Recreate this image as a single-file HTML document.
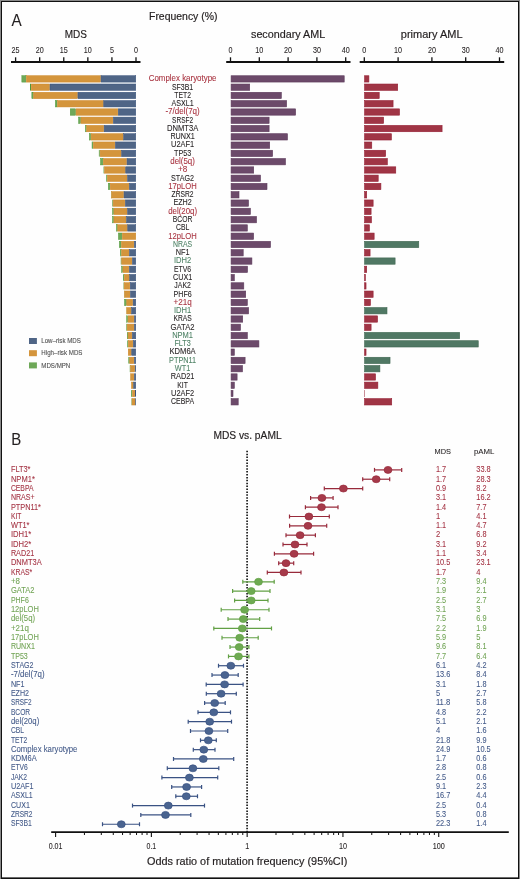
<!DOCTYPE html>
<html><head><meta charset="utf-8"><style>
html,body{margin:0;padding:0;background:#fff;}
body{width:520px;height:879px;overflow:hidden;position:relative;}
svg{position:absolute;left:0;top:0;will-change:transform;}
text{font-family:"Liberation Sans", sans-serif;}
</style></head><body>
<svg width="520" height="879" viewBox="0 0 520 879">
<rect x="0" y="0" width="520" height="879" fill="#fefefe"/>
<g shape-rendering="crispEdges">
<rect x="0" y="0" width="1" height="879" fill="#8a8a8a"/>
<rect x="0" y="0" width="520" height="1" fill="#8a8a8a"/>
<rect x="519" y="0" width="1" height="879" fill="#8a8a8a"/>
<rect x="2" y="877" width="516" height="1" fill="#6a6a6a"/>
<rect x="1" y="1" width="1" height="878" fill="#111"/>
<rect x="1" y="1" width="518" height="1" fill="#111"/>
<rect x="518" y="1" width="1" height="878" fill="#111"/>
<rect x="1" y="878" width="518" height="1" fill="#111"/>
</g>
<text x="11.60" y="26.30" font-size="17.4" fill="#231f20" stroke="#231f20" stroke-width="0.08" text-anchor="start" textLength="10.20" lengthAdjust="spacingAndGlyphs">A</text>
<text x="149.00" y="20.40" font-size="10.6" fill="#231f20" stroke="#231f20" stroke-width="0.18" text-anchor="start" textLength="68.50" lengthAdjust="spacingAndGlyphs">Frequency (%)</text>
<text x="64.80" y="37.80" font-size="11.0" fill="#231f20" stroke="#231f20" stroke-width="0.18" text-anchor="start" textLength="22.20" lengthAdjust="spacingAndGlyphs">MDS</text>
<text x="251.00" y="38.20" font-size="10.9" fill="#231f20" stroke="#231f20" stroke-width="0.18" text-anchor="start" textLength="74.20" lengthAdjust="spacingAndGlyphs">secondary AML</text>
<text x="400.80" y="38.00" font-size="10.9" fill="#231f20" stroke="#231f20" stroke-width="0.18" text-anchor="start" textLength="61.80" lengthAdjust="spacingAndGlyphs">primary AML</text>
<line x1="11.00" y1="62.00" x2="140.50" y2="62.00" stroke="#111" stroke-width="1.8"/>
<line x1="15.60" y1="57.30" x2="15.60" y2="62.00" stroke="#111" stroke-width="1.3"/>
<text x="15.60" y="52.80" font-size="8.4" fill="#231f20" stroke="#231f20" stroke-width="0.08" text-anchor="middle" textLength="8.00" lengthAdjust="spacingAndGlyphs">25</text>
<line x1="39.68" y1="57.30" x2="39.68" y2="62.00" stroke="#111" stroke-width="1.3"/>
<text x="39.68" y="52.80" font-size="8.4" fill="#231f20" stroke="#231f20" stroke-width="0.08" text-anchor="middle" textLength="8.00" lengthAdjust="spacingAndGlyphs">20</text>
<line x1="63.76" y1="57.30" x2="63.76" y2="62.00" stroke="#111" stroke-width="1.3"/>
<text x="63.76" y="52.80" font-size="8.4" fill="#231f20" stroke="#231f20" stroke-width="0.08" text-anchor="middle" textLength="8.00" lengthAdjust="spacingAndGlyphs">15</text>
<line x1="87.84" y1="57.30" x2="87.84" y2="62.00" stroke="#111" stroke-width="1.3"/>
<text x="87.84" y="52.80" font-size="8.4" fill="#231f20" stroke="#231f20" stroke-width="0.08" text-anchor="middle" textLength="8.00" lengthAdjust="spacingAndGlyphs">10</text>
<line x1="111.92" y1="57.30" x2="111.92" y2="62.00" stroke="#111" stroke-width="1.3"/>
<text x="111.92" y="52.80" font-size="8.4" fill="#231f20" stroke="#231f20" stroke-width="0.08" text-anchor="middle" textLength="4.00" lengthAdjust="spacingAndGlyphs">5</text>
<line x1="136.00" y1="57.30" x2="136.00" y2="62.00" stroke="#111" stroke-width="1.3"/>
<text x="136.00" y="52.80" font-size="8.4" fill="#231f20" stroke="#231f20" stroke-width="0.08" text-anchor="middle" textLength="4.00" lengthAdjust="spacingAndGlyphs">0</text>
<line x1="226.20" y1="62.00" x2="350.50" y2="62.00" stroke="#111" stroke-width="1.8"/>
<line x1="230.50" y1="57.30" x2="230.50" y2="62.00" stroke="#111" stroke-width="1.3"/>
<text x="230.50" y="52.80" font-size="8.4" fill="#231f20" stroke="#231f20" stroke-width="0.08" text-anchor="middle" textLength="4.00" lengthAdjust="spacingAndGlyphs">0</text>
<line x1="259.30" y1="57.30" x2="259.30" y2="62.00" stroke="#111" stroke-width="1.3"/>
<text x="259.30" y="52.80" font-size="8.4" fill="#231f20" stroke="#231f20" stroke-width="0.08" text-anchor="middle" textLength="8.00" lengthAdjust="spacingAndGlyphs">10</text>
<line x1="288.10" y1="57.30" x2="288.10" y2="62.00" stroke="#111" stroke-width="1.3"/>
<text x="288.10" y="52.80" font-size="8.4" fill="#231f20" stroke="#231f20" stroke-width="0.08" text-anchor="middle" textLength="8.00" lengthAdjust="spacingAndGlyphs">20</text>
<line x1="316.90" y1="57.30" x2="316.90" y2="62.00" stroke="#111" stroke-width="1.3"/>
<text x="316.90" y="52.80" font-size="8.4" fill="#231f20" stroke="#231f20" stroke-width="0.08" text-anchor="middle" textLength="8.00" lengthAdjust="spacingAndGlyphs">30</text>
<line x1="345.70" y1="57.30" x2="345.70" y2="62.00" stroke="#111" stroke-width="1.3"/>
<text x="345.70" y="52.80" font-size="8.4" fill="#231f20" stroke="#231f20" stroke-width="0.08" text-anchor="middle" textLength="8.00" lengthAdjust="spacingAndGlyphs">40</text>
<line x1="359.70" y1="62.00" x2="504.20" y2="62.00" stroke="#111" stroke-width="1.8"/>
<line x1="364.30" y1="57.30" x2="364.30" y2="62.00" stroke="#111" stroke-width="1.3"/>
<text x="364.30" y="52.80" font-size="8.4" fill="#231f20" stroke="#231f20" stroke-width="0.08" text-anchor="middle" textLength="4.00" lengthAdjust="spacingAndGlyphs">0</text>
<line x1="398.10" y1="57.30" x2="398.10" y2="62.00" stroke="#111" stroke-width="1.3"/>
<text x="398.10" y="52.80" font-size="8.4" fill="#231f20" stroke="#231f20" stroke-width="0.08" text-anchor="middle" textLength="8.00" lengthAdjust="spacingAndGlyphs">10</text>
<line x1="431.90" y1="57.30" x2="431.90" y2="62.00" stroke="#111" stroke-width="1.3"/>
<text x="431.90" y="52.80" font-size="8.4" fill="#231f20" stroke="#231f20" stroke-width="0.08" text-anchor="middle" textLength="8.00" lengthAdjust="spacingAndGlyphs">20</text>
<line x1="465.70" y1="57.30" x2="465.70" y2="62.00" stroke="#111" stroke-width="1.3"/>
<text x="465.70" y="52.80" font-size="8.4" fill="#231f20" stroke="#231f20" stroke-width="0.08" text-anchor="middle" textLength="8.00" lengthAdjust="spacingAndGlyphs">30</text>
<line x1="499.50" y1="57.30" x2="499.50" y2="62.00" stroke="#111" stroke-width="1.3"/>
<text x="499.50" y="52.80" font-size="8.4" fill="#231f20" stroke="#231f20" stroke-width="0.08" text-anchor="middle" textLength="8.00" lengthAdjust="spacingAndGlyphs">40</text>
<rect x="21.85" y="75.70" width="4.00" height="6.40" fill="#6ea858" stroke="#4f9838" stroke-width="0.5"/>
<rect x="26.35" y="75.70" width="74.20" height="6.40" fill="#d4953c" stroke="#cd8626" stroke-width="0.5"/>
<rect x="101.05" y="75.70" width="34.70" height="6.40" fill="#4f6586" stroke="#36507a" stroke-width="0.5"/>
<rect x="231.10" y="75.75" width="113.10" height="6.30" fill="#6c4a6a" stroke="#5d3a5b" stroke-width="0.6"/>
<rect x="364.60" y="75.75" width="4.30" height="6.30" fill="#a03545" stroke="#941f33" stroke-width="0.6"/>
<text x="182.60" y="81.25" font-size="8.4" fill="#a8323f" stroke="#a8323f" stroke-width="0.08" text-anchor="middle" textLength="67.75" lengthAdjust="spacingAndGlyphs">Complex karyotype</text>
<rect x="30.25" y="83.98" width="0.50" height="6.40" fill="#6ea858" stroke="#4f9838" stroke-width="0.5"/>
<rect x="31.25" y="83.98" width="18.25" height="6.40" fill="#d4953c" stroke="#cd8626" stroke-width="0.5"/>
<rect x="50.00" y="83.98" width="85.75" height="6.40" fill="#4f6586" stroke="#36507a" stroke-width="0.5"/>
<rect x="231.10" y="84.03" width="18.60" height="6.30" fill="#6c4a6a" stroke="#5d3a5b" stroke-width="0.6"/>
<rect x="364.60" y="84.03" width="33.10" height="6.30" fill="#a03545" stroke="#941f33" stroke-width="0.6"/>
<text x="182.60" y="89.53" font-size="8.4" fill="#231f20" stroke="#231f20" stroke-width="0.08" text-anchor="middle" textLength="21.28" lengthAdjust="spacingAndGlyphs">SF3B1</text>
<rect x="31.85" y="92.26" width="1.30" height="6.40" fill="#6ea858" stroke="#4f9838" stroke-width="0.5"/>
<rect x="33.65" y="92.26" width="43.80" height="6.40" fill="#d4953c" stroke="#cd8626" stroke-width="0.5"/>
<rect x="77.95" y="92.26" width="57.80" height="6.40" fill="#4f6586" stroke="#36507a" stroke-width="0.5"/>
<rect x="231.10" y="92.31" width="50.20" height="6.30" fill="#6c4a6a" stroke="#5d3a5b" stroke-width="0.6"/>
<rect x="364.60" y="92.31" width="14.61" height="6.30" fill="#a03545" stroke="#941f33" stroke-width="0.6"/>
<text x="182.60" y="97.81" font-size="8.4" fill="#231f20" stroke="#231f20" stroke-width="0.08" text-anchor="middle" textLength="16.69" lengthAdjust="spacingAndGlyphs">TET2</text>
<rect x="55.35" y="100.54" width="1.65" height="6.40" fill="#6ea858" stroke="#4f9838" stroke-width="0.5"/>
<rect x="57.50" y="100.54" width="45.75" height="6.40" fill="#d4953c" stroke="#cd8626" stroke-width="0.5"/>
<rect x="103.75" y="100.54" width="32.00" height="6.40" fill="#4f6586" stroke="#36507a" stroke-width="0.5"/>
<rect x="231.10" y="100.59" width="55.50" height="6.30" fill="#6c4a6a" stroke="#5d3a5b" stroke-width="0.6"/>
<rect x="364.60" y="100.59" width="28.47" height="6.30" fill="#a03545" stroke="#941f33" stroke-width="0.6"/>
<text x="182.60" y="106.09" font-size="8.4" fill="#231f20" stroke="#231f20" stroke-width="0.08" text-anchor="middle" textLength="22.22" lengthAdjust="spacingAndGlyphs">ASXL1</text>
<rect x="70.25" y="108.82" width="5.30" height="6.40" fill="#6ea858" stroke="#4f9838" stroke-width="0.5"/>
<rect x="76.05" y="108.82" width="41.70" height="6.40" fill="#d4953c" stroke="#cd8626" stroke-width="0.5"/>
<rect x="118.25" y="108.82" width="17.50" height="6.40" fill="#4f6586" stroke="#36507a" stroke-width="0.5"/>
<rect x="231.10" y="108.87" width="64.50" height="6.30" fill="#6c4a6a" stroke="#5d3a5b" stroke-width="0.6"/>
<rect x="364.60" y="108.87" width="34.89" height="6.30" fill="#a03545" stroke="#941f33" stroke-width="0.6"/>
<text x="182.60" y="114.37" font-size="8.4" fill="#a8323f" stroke="#a8323f" stroke-width="0.08" text-anchor="middle" textLength="34.30" lengthAdjust="spacingAndGlyphs">-7/del(7q)</text>
<rect x="78.65" y="117.10" width="1.80" height="6.40" fill="#6ea858" stroke="#4f9838" stroke-width="0.5"/>
<rect x="80.95" y="117.10" width="31.90" height="6.40" fill="#d4953c" stroke="#cd8626" stroke-width="0.5"/>
<rect x="113.35" y="117.10" width="22.40" height="6.40" fill="#4f6586" stroke="#36507a" stroke-width="0.5"/>
<rect x="231.10" y="117.15" width="38.00" height="6.30" fill="#6c4a6a" stroke="#5d3a5b" stroke-width="0.6"/>
<rect x="364.60" y="117.15" width="19.00" height="6.30" fill="#a03545" stroke="#941f33" stroke-width="0.6"/>
<text x="182.60" y="122.65" font-size="8.4" fill="#231f20" stroke="#231f20" stroke-width="0.08" text-anchor="middle" textLength="21.08" lengthAdjust="spacingAndGlyphs">SRSF2</text>
<rect x="85.45" y="125.38" width="0.70" height="6.40" fill="#6ea858" stroke="#4f9838" stroke-width="0.5"/>
<rect x="86.65" y="125.38" width="17.00" height="6.40" fill="#d4953c" stroke="#cd8626" stroke-width="0.5"/>
<rect x="104.15" y="125.38" width="31.60" height="6.40" fill="#4f6586" stroke="#36507a" stroke-width="0.5"/>
<rect x="231.10" y="125.43" width="38.00" height="6.30" fill="#6c4a6a" stroke="#5d3a5b" stroke-width="0.6"/>
<rect x="364.60" y="125.43" width="77.48" height="6.30" fill="#a03545" stroke="#941f33" stroke-width="0.6"/>
<text x="182.60" y="130.93" font-size="8.4" fill="#231f20" stroke="#231f20" stroke-width="0.08" text-anchor="middle" textLength="31.31" lengthAdjust="spacingAndGlyphs">DNMT3A</text>
<rect x="89.35" y="133.66" width="1.30" height="6.40" fill="#6ea858" stroke="#4f9838" stroke-width="0.5"/>
<rect x="91.15" y="133.66" width="32.00" height="6.40" fill="#d4953c" stroke="#cd8626" stroke-width="0.5"/>
<rect x="123.65" y="133.66" width="12.10" height="6.40" fill="#4f6586" stroke="#36507a" stroke-width="0.5"/>
<rect x="231.10" y="133.71" width="56.35" height="6.30" fill="#6c4a6a" stroke="#5d3a5b" stroke-width="0.6"/>
<rect x="364.60" y="133.71" width="26.78" height="6.30" fill="#a03545" stroke="#941f33" stroke-width="0.6"/>
<text x="182.60" y="139.21" font-size="8.4" fill="#231f20" stroke="#231f20" stroke-width="0.08" text-anchor="middle" textLength="24.44" lengthAdjust="spacingAndGlyphs">RUNX1</text>
<rect x="92.05" y="141.94" width="0.80" height="6.40" fill="#6ea858" stroke="#4f9838" stroke-width="0.5"/>
<rect x="93.35" y="141.94" width="21.50" height="6.40" fill="#d4953c" stroke="#cd8626" stroke-width="0.5"/>
<rect x="115.35" y="141.94" width="20.40" height="6.40" fill="#4f6586" stroke="#36507a" stroke-width="0.5"/>
<rect x="231.10" y="141.99" width="38.60" height="6.30" fill="#6c4a6a" stroke="#5d3a5b" stroke-width="0.6"/>
<rect x="364.60" y="141.99" width="7.17" height="6.30" fill="#a03545" stroke="#941f33" stroke-width="0.6"/>
<text x="182.60" y="147.49" font-size="8.4" fill="#231f20" stroke="#231f20" stroke-width="0.08" text-anchor="middle" textLength="23.15" lengthAdjust="spacingAndGlyphs">U2AF1</text>
<rect x="99.15" y="150.22" width="0.50" height="6.40" fill="#6ea858" stroke="#4f9838" stroke-width="0.5"/>
<rect x="100.15" y="150.22" width="21.00" height="6.40" fill="#d4953c" stroke="#cd8626" stroke-width="0.5"/>
<rect x="121.65" y="150.22" width="14.10" height="6.40" fill="#4f6586" stroke="#36507a" stroke-width="0.5"/>
<rect x="231.10" y="150.27" width="41.50" height="6.30" fill="#6c4a6a" stroke="#5d3a5b" stroke-width="0.6"/>
<rect x="364.60" y="150.27" width="21.03" height="6.30" fill="#a03545" stroke="#941f33" stroke-width="0.6"/>
<text x="182.60" y="155.77" font-size="8.4" fill="#231f20" stroke="#231f20" stroke-width="0.08" text-anchor="middle" textLength="17.16" lengthAdjust="spacingAndGlyphs">TP53</text>
<rect x="100.55" y="158.50" width="2.20" height="6.40" fill="#6ea858" stroke="#4f9838" stroke-width="0.5"/>
<rect x="103.25" y="158.50" width="23.30" height="6.40" fill="#d4953c" stroke="#cd8626" stroke-width="0.5"/>
<rect x="127.05" y="158.50" width="8.70" height="6.40" fill="#4f6586" stroke="#36507a" stroke-width="0.5"/>
<rect x="231.10" y="158.55" width="54.35" height="6.30" fill="#6c4a6a" stroke="#5d3a5b" stroke-width="0.6"/>
<rect x="364.60" y="158.55" width="22.72" height="6.30" fill="#a03545" stroke="#941f33" stroke-width="0.6"/>
<text x="182.60" y="164.05" font-size="8.4" fill="#a8323f" stroke="#a8323f" stroke-width="0.08" text-anchor="middle" textLength="24.59" lengthAdjust="spacingAndGlyphs">del(5q)</text>
<rect x="103.60" y="166.53" width="0.60" height="6.90" fill="#4f9838"/>
<rect x="104.45" y="166.78" width="20.80" height="6.40" fill="#d4953c" stroke="#cd8626" stroke-width="0.5"/>
<rect x="125.75" y="166.78" width="10.00" height="6.40" fill="#4f6586" stroke="#36507a" stroke-width="0.5"/>
<rect x="231.10" y="166.83" width="22.60" height="6.30" fill="#6c4a6a" stroke="#5d3a5b" stroke-width="0.6"/>
<rect x="364.60" y="166.83" width="31.17" height="6.30" fill="#a03545" stroke="#941f33" stroke-width="0.6"/>
<text x="182.60" y="172.33" font-size="8.4" fill="#a8323f" stroke="#a8323f" stroke-width="0.08" text-anchor="middle" textLength="9.26" lengthAdjust="spacingAndGlyphs">+8</text>
<rect x="106.30" y="174.81" width="0.80" height="6.90" fill="#4f9838"/>
<rect x="107.35" y="175.06" width="19.70" height="6.40" fill="#d4953c" stroke="#cd8626" stroke-width="0.5"/>
<rect x="127.55" y="175.06" width="8.20" height="6.40" fill="#4f6586" stroke="#36507a" stroke-width="0.5"/>
<rect x="231.10" y="175.11" width="29.40" height="6.30" fill="#6c4a6a" stroke="#5d3a5b" stroke-width="0.6"/>
<rect x="364.60" y="175.11" width="13.60" height="6.30" fill="#a03545" stroke="#941f33" stroke-width="0.6"/>
<text x="182.60" y="180.61" font-size="8.4" fill="#231f20" stroke="#231f20" stroke-width="0.08" text-anchor="middle" textLength="23.05" lengthAdjust="spacingAndGlyphs">STAG2</text>
<rect x="108.35" y="183.34" width="1.40" height="6.40" fill="#6ea858" stroke="#4f9838" stroke-width="0.5"/>
<rect x="110.25" y="183.34" width="18.60" height="6.40" fill="#d4953c" stroke="#cd8626" stroke-width="0.5"/>
<rect x="129.35" y="183.34" width="6.40" height="6.40" fill="#4f6586" stroke="#36507a" stroke-width="0.5"/>
<rect x="231.10" y="183.39" width="35.90" height="6.30" fill="#6c4a6a" stroke="#5d3a5b" stroke-width="0.6"/>
<rect x="364.60" y="183.39" width="16.30" height="6.30" fill="#a03545" stroke="#941f33" stroke-width="0.6"/>
<text x="182.60" y="188.89" font-size="8.4" fill="#a8323f" stroke="#a8323f" stroke-width="0.08" text-anchor="middle" textLength="28.46" lengthAdjust="spacingAndGlyphs">17pLOH</text>
<rect x="111.00" y="191.37" width="0.40" height="6.90" fill="#4f9838"/>
<rect x="111.65" y="191.62" width="11.90" height="6.40" fill="#d4953c" stroke="#cd8626" stroke-width="0.5"/>
<rect x="124.05" y="191.62" width="11.70" height="6.40" fill="#4f6586" stroke="#36507a" stroke-width="0.5"/>
<rect x="231.10" y="191.67" width="7.90" height="6.30" fill="#6c4a6a" stroke="#5d3a5b" stroke-width="0.6"/>
<rect x="364.60" y="191.67" width="2.10" height="6.30" fill="#a03545" stroke="#941f33" stroke-width="0.6"/>
<text x="182.60" y="197.17" font-size="8.4" fill="#231f20" stroke="#231f20" stroke-width="0.08" text-anchor="middle" textLength="22.00" lengthAdjust="spacingAndGlyphs">ZRSR2</text>
<rect x="112.35" y="199.90" width="0.30" height="6.40" fill="#6ea858" stroke="#4f9838" stroke-width="0.5"/>
<rect x="113.15" y="199.90" width="11.70" height="6.40" fill="#d4953c" stroke="#cd8626" stroke-width="0.5"/>
<rect x="125.35" y="199.90" width="10.40" height="6.40" fill="#4f6586" stroke="#36507a" stroke-width="0.5"/>
<rect x="231.10" y="199.95" width="17.40" height="6.30" fill="#6c4a6a" stroke="#5d3a5b" stroke-width="0.6"/>
<rect x="364.60" y="199.95" width="8.53" height="6.30" fill="#a03545" stroke="#941f33" stroke-width="0.6"/>
<text x="182.60" y="205.45" font-size="8.4" fill="#231f20" stroke="#231f20" stroke-width="0.08" text-anchor="middle" textLength="18.45" lengthAdjust="spacingAndGlyphs">EZH2</text>
<rect x="112.55" y="208.18" width="0.90" height="6.40" fill="#6ea858" stroke="#4f9838" stroke-width="0.5"/>
<rect x="113.95" y="208.18" width="13.10" height="6.40" fill="#d4953c" stroke="#cd8626" stroke-width="0.5"/>
<rect x="127.55" y="208.18" width="8.20" height="6.40" fill="#4f6586" stroke="#36507a" stroke-width="0.5"/>
<rect x="231.10" y="208.23" width="19.30" height="6.30" fill="#6c4a6a" stroke="#5d3a5b" stroke-width="0.6"/>
<rect x="364.60" y="208.23" width="6.50" height="6.30" fill="#a03545" stroke="#941f33" stroke-width="0.6"/>
<text x="182.60" y="213.73" font-size="8.4" fill="#a8323f" stroke="#a8323f" stroke-width="0.08" text-anchor="middle" textLength="28.87" lengthAdjust="spacingAndGlyphs">del(20q)</text>
<rect x="112.55" y="216.46" width="0.90" height="6.40" fill="#6ea858" stroke="#4f9838" stroke-width="0.5"/>
<rect x="113.95" y="216.46" width="12.05" height="6.40" fill="#d4953c" stroke="#cd8626" stroke-width="0.5"/>
<rect x="126.50" y="216.46" width="9.25" height="6.40" fill="#4f6586" stroke="#36507a" stroke-width="0.5"/>
<rect x="231.10" y="216.51" width="25.40" height="6.30" fill="#6c4a6a" stroke="#5d3a5b" stroke-width="0.6"/>
<rect x="364.60" y="216.51" width="6.84" height="6.30" fill="#a03545" stroke="#941f33" stroke-width="0.6"/>
<text x="182.60" y="222.01" font-size="8.4" fill="#231f20" stroke="#231f20" stroke-width="0.08" text-anchor="middle" textLength="19.61" lengthAdjust="spacingAndGlyphs">BCOR</text>
<rect x="116.45" y="224.74" width="0.80" height="6.40" fill="#6ea858" stroke="#4f9838" stroke-width="0.5"/>
<rect x="117.75" y="224.74" width="9.50" height="6.40" fill="#d4953c" stroke="#cd8626" stroke-width="0.5"/>
<rect x="127.75" y="224.74" width="8.00" height="6.40" fill="#4f6586" stroke="#36507a" stroke-width="0.5"/>
<rect x="231.10" y="224.79" width="16.20" height="6.30" fill="#6c4a6a" stroke="#5d3a5b" stroke-width="0.6"/>
<rect x="364.60" y="224.79" width="4.81" height="6.30" fill="#a03545" stroke="#941f33" stroke-width="0.6"/>
<text x="182.60" y="230.29" font-size="8.4" fill="#231f20" stroke="#231f20" stroke-width="0.08" text-anchor="middle" textLength="13.31" lengthAdjust="spacingAndGlyphs">CBL</text>
<rect x="118.45" y="233.02" width="3.40" height="6.40" fill="#6ea858" stroke="#4f9838" stroke-width="0.5"/>
<rect x="122.35" y="233.02" width="13.40" height="6.40" fill="#d4953c" stroke="#cd8626" stroke-width="0.5"/>
<rect x="231.10" y="233.07" width="22.50" height="6.30" fill="#6c4a6a" stroke="#5d3a5b" stroke-width="0.6"/>
<rect x="364.60" y="233.07" width="9.54" height="6.30" fill="#a03545" stroke="#941f33" stroke-width="0.6"/>
<text x="182.60" y="238.57" font-size="8.4" fill="#a8323f" stroke="#a8323f" stroke-width="0.08" text-anchor="middle" textLength="28.46" lengthAdjust="spacingAndGlyphs">12pLOH</text>
<rect x="119.35" y="241.30" width="1.60" height="6.40" fill="#6ea858" stroke="#4f9838" stroke-width="0.5"/>
<rect x="121.45" y="241.30" width="12.40" height="6.40" fill="#d4953c" stroke="#cd8626" stroke-width="0.5"/>
<rect x="134.35" y="241.30" width="1.40" height="6.40" fill="#4f6586" stroke="#36507a" stroke-width="0.5"/>
<rect x="231.10" y="241.35" width="39.40" height="6.30" fill="#6c4a6a" stroke="#5d3a5b" stroke-width="0.6"/>
<rect x="364.60" y="241.35" width="54.16" height="6.30" fill="#507864" stroke="#3f6650" stroke-width="0.6"/>
<text x="182.60" y="246.85" font-size="8.4" fill="#4f8266" stroke="#4f8266" stroke-width="0.08" text-anchor="middle" textLength="19.21" lengthAdjust="spacingAndGlyphs">NRAS</text>
<rect x="120.45" y="249.58" width="0.60" height="6.40" fill="#6ea858" stroke="#4f9838" stroke-width="0.5"/>
<rect x="121.55" y="249.58" width="7.40" height="6.40" fill="#d4953c" stroke="#cd8626" stroke-width="0.5"/>
<rect x="129.45" y="249.58" width="6.30" height="6.40" fill="#4f6586" stroke="#36507a" stroke-width="0.5"/>
<rect x="231.10" y="249.63" width="12.10" height="6.30" fill="#6c4a6a" stroke="#5d3a5b" stroke-width="0.6"/>
<rect x="364.60" y="249.63" width="5.48" height="6.30" fill="#a03545" stroke="#941f33" stroke-width="0.6"/>
<text x="182.60" y="255.13" font-size="8.4" fill="#231f20" stroke="#231f20" stroke-width="0.08" text-anchor="middle" textLength="13.84" lengthAdjust="spacingAndGlyphs">NF1</text>
<rect x="120.80" y="257.61" width="0.70" height="6.90" fill="#4f9838"/>
<rect x="121.75" y="257.86" width="10.20" height="6.40" fill="#d4953c" stroke="#cd8626" stroke-width="0.5"/>
<rect x="132.45" y="257.86" width="3.30" height="6.40" fill="#4f6586" stroke="#36507a" stroke-width="0.5"/>
<rect x="231.10" y="257.91" width="20.80" height="6.30" fill="#6c4a6a" stroke="#5d3a5b" stroke-width="0.6"/>
<rect x="364.60" y="257.91" width="30.50" height="6.30" fill="#507864" stroke="#3f6650" stroke-width="0.6"/>
<text x="182.60" y="263.41" font-size="8.4" fill="#4f8266" stroke="#4f8266" stroke-width="0.08" text-anchor="middle" textLength="17.28" lengthAdjust="spacingAndGlyphs">IDH2</text>
<rect x="121.65" y="266.14" width="0.80" height="6.40" fill="#6ea858" stroke="#4f9838" stroke-width="0.5"/>
<rect x="122.95" y="266.14" width="5.90" height="6.40" fill="#d4953c" stroke="#cd8626" stroke-width="0.5"/>
<rect x="129.35" y="266.14" width="6.40" height="6.40" fill="#4f6586" stroke="#36507a" stroke-width="0.5"/>
<rect x="231.10" y="266.19" width="16.40" height="6.30" fill="#6c4a6a" stroke="#5d3a5b" stroke-width="0.6"/>
<rect x="364.60" y="266.19" width="2.10" height="6.30" fill="#a03545" stroke="#941f33" stroke-width="0.6"/>
<text x="182.60" y="271.69" font-size="8.4" fill="#231f20" stroke="#231f20" stroke-width="0.08" text-anchor="middle" textLength="17.20" lengthAdjust="spacingAndGlyphs">ETV6</text>
<rect x="123.35" y="274.42" width="0.50" height="6.40" fill="#6ea858" stroke="#4f9838" stroke-width="0.5"/>
<rect x="124.35" y="274.42" width="4.80" height="6.40" fill="#d4953c" stroke="#cd8626" stroke-width="0.5"/>
<rect x="129.65" y="274.42" width="6.10" height="6.40" fill="#4f6586" stroke="#36507a" stroke-width="0.5"/>
<rect x="231.10" y="274.47" width="3.20" height="6.30" fill="#6c4a6a" stroke="#5d3a5b" stroke-width="0.6"/>
<rect x="364.60" y="274.47" width="0.75" height="6.30" fill="#a03545" stroke="#941f33" stroke-width="0.6"/>
<text x="182.60" y="279.97" font-size="8.4" fill="#231f20" stroke="#231f20" stroke-width="0.08" text-anchor="middle" textLength="19.30" lengthAdjust="spacingAndGlyphs">CUX1</text>
<rect x="123.50" y="282.45" width="0.40" height="6.90" fill="#4f9838"/>
<rect x="124.15" y="282.70" width="5.60" height="6.40" fill="#d4953c" stroke="#cd8626" stroke-width="0.5"/>
<rect x="130.25" y="282.70" width="5.50" height="6.40" fill="#4f6586" stroke="#36507a" stroke-width="0.5"/>
<rect x="231.10" y="282.75" width="12.70" height="6.30" fill="#6c4a6a" stroke="#5d3a5b" stroke-width="0.6"/>
<rect x="364.60" y="282.75" width="1.43" height="6.30" fill="#a03545" stroke="#941f33" stroke-width="0.6"/>
<text x="182.60" y="288.25" font-size="8.4" fill="#231f20" stroke="#231f20" stroke-width="0.08" text-anchor="middle" textLength="16.56" lengthAdjust="spacingAndGlyphs">JAK2</text>
<rect x="124.00" y="290.73" width="0.30" height="6.90" fill="#4f9838"/>
<rect x="124.55" y="290.98" width="5.40" height="6.40" fill="#d4953c" stroke="#cd8626" stroke-width="0.5"/>
<rect x="130.45" y="290.98" width="5.30" height="6.40" fill="#4f6586" stroke="#36507a" stroke-width="0.5"/>
<rect x="231.10" y="291.03" width="14.60" height="6.30" fill="#6c4a6a" stroke="#5d3a5b" stroke-width="0.6"/>
<rect x="364.60" y="291.03" width="8.53" height="6.30" fill="#a03545" stroke="#941f33" stroke-width="0.6"/>
<text x="182.60" y="296.53" font-size="8.4" fill="#231f20" stroke="#231f20" stroke-width="0.08" text-anchor="middle" textLength="18.24" lengthAdjust="spacingAndGlyphs">PHF6</text>
<rect x="124.55" y="299.26" width="1.70" height="6.40" fill="#6ea858" stroke="#4f9838" stroke-width="0.5"/>
<rect x="126.75" y="299.26" width="5.90" height="6.40" fill="#d4953c" stroke="#cd8626" stroke-width="0.5"/>
<rect x="133.15" y="299.26" width="2.60" height="6.40" fill="#4f6586" stroke="#36507a" stroke-width="0.5"/>
<rect x="231.10" y="299.31" width="16.20" height="6.30" fill="#6c4a6a" stroke="#5d3a5b" stroke-width="0.6"/>
<rect x="364.60" y="299.31" width="5.82" height="6.30" fill="#a03545" stroke="#941f33" stroke-width="0.6"/>
<text x="182.60" y="304.81" font-size="8.4" fill="#a8323f" stroke="#a8323f" stroke-width="0.08" text-anchor="middle" textLength="18.24" lengthAdjust="spacingAndGlyphs">+21q</text>
<rect x="126.30" y="307.29" width="0.20" height="6.90" fill="#4f9838"/>
<rect x="126.75" y="307.54" width="4.40" height="6.40" fill="#d4953c" stroke="#cd8626" stroke-width="0.5"/>
<rect x="131.65" y="307.54" width="4.10" height="6.40" fill="#4f6586" stroke="#36507a" stroke-width="0.5"/>
<rect x="231.10" y="307.59" width="17.50" height="6.30" fill="#6c4a6a" stroke="#5d3a5b" stroke-width="0.6"/>
<rect x="364.60" y="307.59" width="22.38" height="6.30" fill="#507864" stroke="#3f6650" stroke-width="0.6"/>
<text x="182.60" y="313.09" font-size="8.4" fill="#4f8266" stroke="#4f8266" stroke-width="0.08" text-anchor="middle" textLength="17.28" lengthAdjust="spacingAndGlyphs">IDH1</text>
<rect x="126.65" y="315.82" width="0.90" height="6.40" fill="#6ea858" stroke="#4f9838" stroke-width="0.5"/>
<rect x="128.05" y="315.82" width="5.80" height="6.40" fill="#d4953c" stroke="#cd8626" stroke-width="0.5"/>
<rect x="134.35" y="315.82" width="1.40" height="6.40" fill="#4f6586" stroke="#36507a" stroke-width="0.5"/>
<rect x="231.10" y="315.87" width="11.60" height="6.30" fill="#6c4a6a" stroke="#5d3a5b" stroke-width="0.6"/>
<rect x="364.60" y="315.87" width="12.92" height="6.30" fill="#a03545" stroke="#941f33" stroke-width="0.6"/>
<text x="182.60" y="321.37" font-size="8.4" fill="#231f20" stroke="#231f20" stroke-width="0.08" text-anchor="middle" textLength="18.24" lengthAdjust="spacingAndGlyphs">KRAS</text>
<rect x="126.30" y="323.85" width="0.60" height="6.90" fill="#4f9838"/>
<rect x="127.15" y="324.10" width="6.70" height="6.40" fill="#d4953c" stroke="#cd8626" stroke-width="0.5"/>
<rect x="134.35" y="324.10" width="1.40" height="6.40" fill="#4f6586" stroke="#36507a" stroke-width="0.5"/>
<rect x="231.10" y="324.15" width="9.40" height="6.30" fill="#6c4a6a" stroke="#5d3a5b" stroke-width="0.6"/>
<rect x="364.60" y="324.15" width="6.50" height="6.30" fill="#a03545" stroke="#941f33" stroke-width="0.6"/>
<text x="182.60" y="329.65" font-size="8.4" fill="#231f20" stroke="#231f20" stroke-width="0.08" text-anchor="middle" textLength="24.05" lengthAdjust="spacingAndGlyphs">GATA2</text>
<rect x="127.00" y="332.13" width="0.80" height="6.90" fill="#4f9838"/>
<rect x="128.05" y="332.38" width="3.80" height="6.40" fill="#d4953c" stroke="#cd8626" stroke-width="0.5"/>
<rect x="132.35" y="332.38" width="3.40" height="6.40" fill="#4f6586" stroke="#36507a" stroke-width="0.5"/>
<rect x="231.10" y="332.43" width="16.20" height="6.30" fill="#6c4a6a" stroke="#5d3a5b" stroke-width="0.6"/>
<rect x="364.60" y="332.43" width="95.05" height="6.30" fill="#507864" stroke="#3f6650" stroke-width="0.6"/>
<text x="182.60" y="337.93" font-size="8.4" fill="#4f8266" stroke="#4f8266" stroke-width="0.08" text-anchor="middle" textLength="20.93" lengthAdjust="spacingAndGlyphs">NPM1</text>
<rect x="127.30" y="340.41" width="0.70" height="6.90" fill="#4f9838"/>
<rect x="128.25" y="340.66" width="4.60" height="6.40" fill="#d4953c" stroke="#cd8626" stroke-width="0.5"/>
<rect x="133.35" y="340.66" width="2.40" height="6.40" fill="#4f6586" stroke="#36507a" stroke-width="0.5"/>
<rect x="231.10" y="340.71" width="27.80" height="6.30" fill="#6c4a6a" stroke="#5d3a5b" stroke-width="0.6"/>
<rect x="364.60" y="340.71" width="113.64" height="6.30" fill="#507864" stroke="#3f6650" stroke-width="0.6"/>
<text x="182.60" y="346.21" font-size="8.4" fill="#4f8266" stroke="#4f8266" stroke-width="0.08" text-anchor="middle" textLength="16.44" lengthAdjust="spacingAndGlyphs">FLT3</text>
<rect x="128.25" y="348.94" width="3.00" height="6.40" fill="#d4953c" stroke="#cd8626" stroke-width="0.5"/>
<rect x="131.75" y="348.94" width="4.00" height="6.40" fill="#4f6586" stroke="#36507a" stroke-width="0.5"/>
<rect x="231.10" y="348.99" width="3.20" height="6.30" fill="#6c4a6a" stroke="#5d3a5b" stroke-width="0.6"/>
<rect x="364.60" y="348.99" width="1.43" height="6.30" fill="#a03545" stroke="#941f33" stroke-width="0.6"/>
<text x="182.60" y="354.49" font-size="8.4" fill="#231f20" stroke="#231f20" stroke-width="0.08" text-anchor="middle" textLength="26.19" lengthAdjust="spacingAndGlyphs">KDM6A</text>
<rect x="128.75" y="357.22" width="0.50" height="6.40" fill="#6ea858" stroke="#4f9838" stroke-width="0.5"/>
<rect x="129.75" y="357.22" width="4.10" height="6.40" fill="#d4953c" stroke="#cd8626" stroke-width="0.5"/>
<rect x="134.35" y="357.22" width="1.40" height="6.40" fill="#4f6586" stroke="#36507a" stroke-width="0.5"/>
<rect x="231.10" y="357.27" width="14.00" height="6.30" fill="#6c4a6a" stroke="#5d3a5b" stroke-width="0.6"/>
<rect x="364.60" y="357.27" width="25.43" height="6.30" fill="#507864" stroke="#3f6650" stroke-width="0.6"/>
<text x="182.60" y="362.77" font-size="8.4" fill="#4f8266" stroke="#4f8266" stroke-width="0.08" text-anchor="middle" textLength="27.10" lengthAdjust="spacingAndGlyphs">PTPN11</text>
<rect x="129.80" y="365.25" width="0.60" height="6.90" fill="#4f9838"/>
<rect x="130.65" y="365.50" width="4.00" height="6.40" fill="#d4953c" stroke="#cd8626" stroke-width="0.5"/>
<rect x="135.15" y="365.50" width="0.60" height="6.40" fill="#4f6586" stroke="#36507a" stroke-width="0.5"/>
<rect x="231.10" y="365.55" width="11.40" height="6.30" fill="#6c4a6a" stroke="#5d3a5b" stroke-width="0.6"/>
<rect x="364.60" y="365.55" width="15.29" height="6.30" fill="#507864" stroke="#3f6650" stroke-width="0.6"/>
<text x="182.60" y="371.05" font-size="8.4" fill="#4f8266" stroke="#4f8266" stroke-width="0.08" text-anchor="middle" textLength="15.50" lengthAdjust="spacingAndGlyphs">WT1</text>
<rect x="130.30" y="373.53" width="0.10" height="6.90" fill="#4f9838"/>
<rect x="130.65" y="373.78" width="3.20" height="6.40" fill="#d4953c" stroke="#cd8626" stroke-width="0.5"/>
<rect x="134.35" y="373.78" width="1.40" height="6.40" fill="#4f6586" stroke="#36507a" stroke-width="0.5"/>
<rect x="231.10" y="373.83" width="6.00" height="6.30" fill="#6c4a6a" stroke="#5d3a5b" stroke-width="0.6"/>
<rect x="364.60" y="373.83" width="10.89" height="6.30" fill="#a03545" stroke="#941f33" stroke-width="0.6"/>
<text x="182.60" y="379.33" font-size="8.4" fill="#231f20" stroke="#231f20" stroke-width="0.08" text-anchor="middle" textLength="23.73" lengthAdjust="spacingAndGlyphs">RAD21</text>
<rect x="131.20" y="381.81" width="0.10" height="6.90" fill="#4f9838"/>
<rect x="131.55" y="382.06" width="1.60" height="6.40" fill="#d4953c" stroke="#cd8626" stroke-width="0.5"/>
<rect x="133.65" y="382.06" width="2.10" height="6.40" fill="#4f6586" stroke="#36507a" stroke-width="0.5"/>
<rect x="231.10" y="382.11" width="3.20" height="6.30" fill="#6c4a6a" stroke="#5d3a5b" stroke-width="0.6"/>
<rect x="364.60" y="382.11" width="13.26" height="6.30" fill="#a03545" stroke="#941f33" stroke-width="0.6"/>
<text x="182.60" y="387.61" font-size="8.4" fill="#231f20" stroke="#231f20" stroke-width="0.08" text-anchor="middle" textLength="10.67" lengthAdjust="spacingAndGlyphs">KIT</text>
<rect x="131.45" y="390.34" width="0.50" height="6.40" fill="#6ea858" stroke="#4f9838" stroke-width="0.5"/>
<rect x="132.45" y="390.34" width="2.40" height="6.40" fill="#d4953c" stroke="#cd8626" stroke-width="0.5"/>
<rect x="135.35" y="390.34" width="0.40" height="6.40" fill="#4f6586" stroke="#36507a" stroke-width="0.5"/>
<rect x="231.10" y="390.39" width="1.90" height="6.30" fill="#6c4a6a" stroke="#5d3a5b" stroke-width="0.6"/>
<rect x="364.30" y="390.09" width="0.51" height="6.90" fill="#941f33"/>
<text x="182.60" y="395.89" font-size="8.4" fill="#231f20" stroke="#231f20" stroke-width="0.08" text-anchor="middle" textLength="23.15" lengthAdjust="spacingAndGlyphs">U2AF2</text>
<rect x="131.40" y="398.37" width="0.40" height="6.90" fill="#4f9838"/>
<rect x="132.05" y="398.62" width="3.00" height="6.40" fill="#d4953c" stroke="#cd8626" stroke-width="0.5"/>
<rect x="135.30" y="398.37" width="0.70" height="6.90" fill="#36507a"/>
<rect x="231.10" y="398.67" width="7.10" height="6.30" fill="#6c4a6a" stroke="#5d3a5b" stroke-width="0.6"/>
<rect x="364.60" y="398.67" width="27.12" height="6.30" fill="#a03545" stroke="#941f33" stroke-width="0.6"/>
<text x="182.60" y="404.17" font-size="8.4" fill="#231f20" stroke="#231f20" stroke-width="0.08" text-anchor="middle" textLength="23.03" lengthAdjust="spacingAndGlyphs">CEBPA</text>
<rect x="29.00" y="338.00" width="7.90" height="6.00" fill="#4f6586"/>
<text x="41.30" y="343.20" font-size="7.0" fill="#4a4a4a" stroke="#4a4a4a" stroke-width="0.08" text-anchor="start" textLength="39.54" lengthAdjust="spacingAndGlyphs">Low–risk MDS</text>
<rect x="29.00" y="350.20" width="7.90" height="6.00" fill="#d4953c"/>
<text x="41.30" y="355.40" font-size="7.0" fill="#4a4a4a" stroke="#4a4a4a" stroke-width="0.08" text-anchor="start" textLength="41.18" lengthAdjust="spacingAndGlyphs">High–risk MDS</text>
<rect x="29.00" y="362.40" width="7.90" height="6.00" fill="#6ea858"/>
<text x="41.30" y="367.60" font-size="7.0" fill="#4a4a4a" stroke="#4a4a4a" stroke-width="0.08" text-anchor="start" textLength="29.02" lengthAdjust="spacingAndGlyphs">MDS/MPN</text>
<text x="11.30" y="445.00" font-size="17.4" fill="#231f20" stroke="#231f20" stroke-width="0.08" text-anchor="start" textLength="10.00" lengthAdjust="spacingAndGlyphs">B</text>
<text x="213.40" y="438.90" font-size="10.9" fill="#231f20" stroke="#231f20" stroke-width="0.18" text-anchor="start" textLength="68.20" lengthAdjust="spacingAndGlyphs">MDS vs. pAML</text>
<text x="434.60" y="453.80" font-size="7.9" fill="#231f20" stroke="#231f20" stroke-width="0.08" text-anchor="start" textLength="16.40" lengthAdjust="spacingAndGlyphs">MDS</text>
<text x="474.00" y="453.80" font-size="7.9" fill="#231f20" stroke="#231f20" stroke-width="0.08" text-anchor="start" textLength="20.40" lengthAdjust="spacingAndGlyphs">pAML</text>
<line x1="247.10" y1="450.80" x2="247.10" y2="832.00" stroke="#1a1a1a" stroke-width="1.7" stroke-dasharray="1.5 1.4"/>
<line x1="374.50" y1="469.90" x2="401.70" y2="469.90" stroke="#982a3b" stroke-width="1.2"/>
<line x1="374.50" y1="467.90" x2="374.50" y2="471.90" stroke="#982a3b" stroke-width="1.2"/>
<line x1="401.70" y1="467.90" x2="401.70" y2="471.90" stroke="#982a3b" stroke-width="1.2"/>
<ellipse cx="388.00" cy="469.90" rx="3.95" ry="3.5" fill="#a63a4a" stroke="#982a3b" stroke-width="0.7"/>
<text x="10.90" y="472.25" font-size="8.3" fill="#a43343" stroke="#a43343" stroke-width="0.08" text-anchor="start" textLength="19.54" lengthAdjust="spacingAndGlyphs">FLT3*</text>
<text x="435.90" y="472.25" font-size="8.2" fill="#a43343" stroke="#a43343" stroke-width="0.08" text-anchor="start" textLength="10.17" lengthAdjust="spacingAndGlyphs">1.7</text>
<text x="476.30" y="472.25" font-size="8.2" fill="#a43343" stroke="#a43343" stroke-width="0.08" text-anchor="start" textLength="14.40" lengthAdjust="spacingAndGlyphs">33.8</text>
<line x1="362.70" y1="479.22" x2="389.70" y2="479.22" stroke="#982a3b" stroke-width="1.2"/>
<line x1="362.70" y1="477.22" x2="362.70" y2="481.22" stroke="#982a3b" stroke-width="1.2"/>
<line x1="389.70" y1="477.22" x2="389.70" y2="481.22" stroke="#982a3b" stroke-width="1.2"/>
<ellipse cx="376.20" cy="479.22" rx="3.95" ry="3.5" fill="#a63a4a" stroke="#982a3b" stroke-width="0.7"/>
<text x="10.90" y="481.57" font-size="8.3" fill="#a43343" stroke="#a43343" stroke-width="0.08" text-anchor="start" textLength="23.95" lengthAdjust="spacingAndGlyphs">NPM1*</text>
<text x="435.90" y="481.57" font-size="8.2" fill="#a43343" stroke="#a43343" stroke-width="0.08" text-anchor="start" textLength="10.17" lengthAdjust="spacingAndGlyphs">1.7</text>
<text x="476.30" y="481.57" font-size="8.2" fill="#a43343" stroke="#a43343" stroke-width="0.08" text-anchor="start" textLength="14.40" lengthAdjust="spacingAndGlyphs">28.3</text>
<line x1="324.30" y1="488.55" x2="362.70" y2="488.55" stroke="#982a3b" stroke-width="1.2"/>
<line x1="324.30" y1="486.55" x2="324.30" y2="490.55" stroke="#982a3b" stroke-width="1.2"/>
<line x1="362.70" y1="486.55" x2="362.70" y2="490.55" stroke="#982a3b" stroke-width="1.2"/>
<ellipse cx="343.40" cy="488.55" rx="3.95" ry="3.5" fill="#a63a4a" stroke="#982a3b" stroke-width="0.7"/>
<text x="10.90" y="490.89" font-size="8.3" fill="#a43343" stroke="#a43343" stroke-width="0.08" text-anchor="start" textLength="22.62" lengthAdjust="spacingAndGlyphs">CEBPA</text>
<text x="435.90" y="490.89" font-size="8.2" fill="#a43343" stroke="#a43343" stroke-width="0.08" text-anchor="start" textLength="10.17" lengthAdjust="spacingAndGlyphs">0.9</text>
<text x="476.30" y="490.89" font-size="8.2" fill="#a43343" stroke="#a43343" stroke-width="0.08" text-anchor="start" textLength="10.17" lengthAdjust="spacingAndGlyphs">8.2</text>
<line x1="310.60" y1="497.88" x2="333.10" y2="497.88" stroke="#982a3b" stroke-width="1.2"/>
<line x1="310.60" y1="495.88" x2="310.60" y2="499.88" stroke="#982a3b" stroke-width="1.2"/>
<line x1="333.10" y1="495.88" x2="333.10" y2="499.88" stroke="#982a3b" stroke-width="1.2"/>
<ellipse cx="321.90" cy="497.88" rx="3.95" ry="3.5" fill="#a63a4a" stroke="#982a3b" stroke-width="0.7"/>
<text x="10.90" y="500.21" font-size="8.3" fill="#a43343" stroke="#a43343" stroke-width="0.08" text-anchor="start" textLength="23.76" lengthAdjust="spacingAndGlyphs">NRAS+</text>
<text x="435.90" y="500.21" font-size="8.2" fill="#a43343" stroke="#a43343" stroke-width="0.08" text-anchor="start" textLength="10.17" lengthAdjust="spacingAndGlyphs">3.1</text>
<text x="476.30" y="500.21" font-size="8.2" fill="#a43343" stroke="#a43343" stroke-width="0.08" text-anchor="start" textLength="14.40" lengthAdjust="spacingAndGlyphs">16.2</text>
<line x1="305.40" y1="507.20" x2="338.00" y2="507.20" stroke="#982a3b" stroke-width="1.2"/>
<line x1="305.40" y1="505.20" x2="305.40" y2="509.20" stroke="#982a3b" stroke-width="1.2"/>
<line x1="338.00" y1="505.20" x2="338.00" y2="509.20" stroke="#982a3b" stroke-width="1.2"/>
<ellipse cx="321.50" cy="507.20" rx="3.95" ry="3.5" fill="#a63a4a" stroke="#982a3b" stroke-width="0.7"/>
<text x="10.90" y="509.53" font-size="8.3" fill="#a43343" stroke="#a43343" stroke-width="0.08" text-anchor="start" textLength="30.00" lengthAdjust="spacingAndGlyphs">PTPN11*</text>
<text x="435.90" y="509.53" font-size="8.2" fill="#a43343" stroke="#a43343" stroke-width="0.08" text-anchor="start" textLength="10.17" lengthAdjust="spacingAndGlyphs">1.4</text>
<text x="476.30" y="509.53" font-size="8.2" fill="#a43343" stroke="#a43343" stroke-width="0.08" text-anchor="start" textLength="10.17" lengthAdjust="spacingAndGlyphs">7.7</text>
<line x1="289.50" y1="516.52" x2="329.30" y2="516.52" stroke="#982a3b" stroke-width="1.2"/>
<line x1="289.50" y1="514.52" x2="289.50" y2="518.52" stroke="#982a3b" stroke-width="1.2"/>
<line x1="329.30" y1="514.52" x2="329.30" y2="518.52" stroke="#982a3b" stroke-width="1.2"/>
<ellipse cx="308.90" cy="516.52" rx="3.95" ry="3.5" fill="#a63a4a" stroke="#982a3b" stroke-width="0.7"/>
<text x="10.90" y="518.85" font-size="8.3" fill="#a43343" stroke="#a43343" stroke-width="0.08" text-anchor="start" textLength="10.48" lengthAdjust="spacingAndGlyphs">KIT</text>
<text x="435.90" y="518.85" font-size="8.2" fill="#a43343" stroke="#a43343" stroke-width="0.08" text-anchor="start" textLength="4.23" lengthAdjust="spacingAndGlyphs">1</text>
<text x="476.30" y="518.85" font-size="8.2" fill="#a43343" stroke="#a43343" stroke-width="0.08" text-anchor="start" textLength="10.17" lengthAdjust="spacingAndGlyphs">4.1</text>
<line x1="289.60" y1="525.85" x2="326.70" y2="525.85" stroke="#982a3b" stroke-width="1.2"/>
<line x1="289.60" y1="523.85" x2="289.60" y2="527.85" stroke="#982a3b" stroke-width="1.2"/>
<line x1="326.70" y1="523.85" x2="326.70" y2="527.85" stroke="#982a3b" stroke-width="1.2"/>
<ellipse cx="308.00" cy="525.85" rx="3.95" ry="3.5" fill="#a63a4a" stroke="#982a3b" stroke-width="0.7"/>
<text x="10.90" y="528.17" font-size="8.3" fill="#a43343" stroke="#a43343" stroke-width="0.08" text-anchor="start" textLength="18.61" lengthAdjust="spacingAndGlyphs">WT1*</text>
<text x="435.90" y="528.17" font-size="8.2" fill="#a43343" stroke="#a43343" stroke-width="0.08" text-anchor="start" textLength="10.17" lengthAdjust="spacingAndGlyphs">1.1</text>
<text x="476.30" y="528.17" font-size="8.2" fill="#a43343" stroke="#a43343" stroke-width="0.08" text-anchor="start" textLength="10.17" lengthAdjust="spacingAndGlyphs">4.7</text>
<line x1="286.00" y1="535.17" x2="315.40" y2="535.17" stroke="#982a3b" stroke-width="1.2"/>
<line x1="286.00" y1="533.17" x2="286.00" y2="537.17" stroke="#982a3b" stroke-width="1.2"/>
<line x1="315.40" y1="533.17" x2="315.40" y2="537.17" stroke="#982a3b" stroke-width="1.2"/>
<ellipse cx="300.10" cy="535.17" rx="3.95" ry="3.5" fill="#a63a4a" stroke="#982a3b" stroke-width="0.7"/>
<text x="10.90" y="537.49" font-size="8.3" fill="#a43343" stroke="#a43343" stroke-width="0.08" text-anchor="start" textLength="20.37" lengthAdjust="spacingAndGlyphs">IDH1*</text>
<text x="435.90" y="537.49" font-size="8.2" fill="#a43343" stroke="#a43343" stroke-width="0.08" text-anchor="start" textLength="4.23" lengthAdjust="spacingAndGlyphs">2</text>
<text x="476.30" y="537.49" font-size="8.2" fill="#a43343" stroke="#a43343" stroke-width="0.08" text-anchor="start" textLength="10.17" lengthAdjust="spacingAndGlyphs">6.8</text>
<line x1="283.00" y1="544.50" x2="307.00" y2="544.50" stroke="#982a3b" stroke-width="1.2"/>
<line x1="283.00" y1="542.50" x2="283.00" y2="546.50" stroke="#982a3b" stroke-width="1.2"/>
<line x1="307.00" y1="542.50" x2="307.00" y2="546.50" stroke="#982a3b" stroke-width="1.2"/>
<ellipse cx="295.00" cy="544.50" rx="3.95" ry="3.5" fill="#a63a4a" stroke="#982a3b" stroke-width="0.7"/>
<text x="10.90" y="546.81" font-size="8.3" fill="#a43343" stroke="#a43343" stroke-width="0.08" text-anchor="start" textLength="20.37" lengthAdjust="spacingAndGlyphs">IDH2*</text>
<text x="435.90" y="546.81" font-size="8.2" fill="#a43343" stroke="#a43343" stroke-width="0.08" text-anchor="start" textLength="10.17" lengthAdjust="spacingAndGlyphs">3.1</text>
<text x="476.30" y="546.81" font-size="8.2" fill="#a43343" stroke="#a43343" stroke-width="0.08" text-anchor="start" textLength="10.17" lengthAdjust="spacingAndGlyphs">9.2</text>
<line x1="274.40" y1="553.82" x2="313.60" y2="553.82" stroke="#982a3b" stroke-width="1.2"/>
<line x1="274.40" y1="551.82" x2="274.40" y2="555.82" stroke="#982a3b" stroke-width="1.2"/>
<line x1="313.60" y1="551.82" x2="313.60" y2="555.82" stroke="#982a3b" stroke-width="1.2"/>
<ellipse cx="294.10" cy="553.82" rx="3.95" ry="3.5" fill="#a63a4a" stroke="#982a3b" stroke-width="0.7"/>
<text x="10.90" y="556.13" font-size="8.3" fill="#a43343" stroke="#a43343" stroke-width="0.08" text-anchor="start" textLength="23.30" lengthAdjust="spacingAndGlyphs">RAD21</text>
<text x="435.90" y="556.13" font-size="8.2" fill="#a43343" stroke="#a43343" stroke-width="0.08" text-anchor="start" textLength="10.17" lengthAdjust="spacingAndGlyphs">1.1</text>
<text x="476.30" y="556.13" font-size="8.2" fill="#a43343" stroke="#a43343" stroke-width="0.08" text-anchor="start" textLength="10.17" lengthAdjust="spacingAndGlyphs">3.4</text>
<line x1="278.70" y1="563.15" x2="293.70" y2="563.15" stroke="#982a3b" stroke-width="1.2"/>
<line x1="278.70" y1="561.15" x2="278.70" y2="565.15" stroke="#982a3b" stroke-width="1.2"/>
<line x1="293.70" y1="561.15" x2="293.70" y2="565.15" stroke="#982a3b" stroke-width="1.2"/>
<ellipse cx="286.00" cy="563.15" rx="3.95" ry="3.5" fill="#a63a4a" stroke="#982a3b" stroke-width="0.7"/>
<text x="10.90" y="565.45" font-size="8.3" fill="#a43343" stroke="#a43343" stroke-width="0.08" text-anchor="start" textLength="30.75" lengthAdjust="spacingAndGlyphs">DNMT3A</text>
<text x="435.90" y="565.45" font-size="8.2" fill="#a43343" stroke="#a43343" stroke-width="0.08" text-anchor="start" textLength="14.40" lengthAdjust="spacingAndGlyphs">10.5</text>
<text x="476.30" y="565.45" font-size="8.2" fill="#a43343" stroke="#a43343" stroke-width="0.08" text-anchor="start" textLength="14.40" lengthAdjust="spacingAndGlyphs">23.1</text>
<line x1="267.30" y1="572.47" x2="301.00" y2="572.47" stroke="#982a3b" stroke-width="1.2"/>
<line x1="267.30" y1="570.47" x2="267.30" y2="574.47" stroke="#982a3b" stroke-width="1.2"/>
<line x1="301.00" y1="570.47" x2="301.00" y2="574.47" stroke="#982a3b" stroke-width="1.2"/>
<ellipse cx="283.90" cy="572.47" rx="3.95" ry="3.5" fill="#a63a4a" stroke="#982a3b" stroke-width="0.7"/>
<text x="10.90" y="574.77" font-size="8.3" fill="#a43343" stroke="#a43343" stroke-width="0.08" text-anchor="start" textLength="21.31" lengthAdjust="spacingAndGlyphs">KRAS*</text>
<text x="435.90" y="574.77" font-size="8.2" fill="#a43343" stroke="#a43343" stroke-width="0.08" text-anchor="start" textLength="10.17" lengthAdjust="spacingAndGlyphs">1.7</text>
<text x="476.30" y="574.77" font-size="8.2" fill="#a43343" stroke="#a43343" stroke-width="0.08" text-anchor="start" textLength="4.23" lengthAdjust="spacingAndGlyphs">4</text>
<line x1="242.80" y1="581.80" x2="274.20" y2="581.80" stroke="#62a044" stroke-width="1.2"/>
<line x1="242.80" y1="579.80" x2="242.80" y2="583.80" stroke="#62a044" stroke-width="1.2"/>
<line x1="274.20" y1="579.80" x2="274.20" y2="583.80" stroke="#62a044" stroke-width="1.2"/>
<ellipse cx="258.50" cy="581.80" rx="3.95" ry="3.5" fill="#6eaa52" stroke="#62a044" stroke-width="0.7"/>
<text x="10.90" y="584.09" font-size="8.3" fill="#70a354" stroke="#70a354" stroke-width="0.08" text-anchor="start" textLength="9.09" lengthAdjust="spacingAndGlyphs">+8</text>
<text x="435.90" y="584.09" font-size="8.2" fill="#70a354" stroke="#70a354" stroke-width="0.08" text-anchor="start" textLength="10.17" lengthAdjust="spacingAndGlyphs">7.3</text>
<text x="476.30" y="584.09" font-size="8.2" fill="#70a354" stroke="#70a354" stroke-width="0.08" text-anchor="start" textLength="10.17" lengthAdjust="spacingAndGlyphs">9.4</text>
<line x1="232.60" y1="591.12" x2="270.00" y2="591.12" stroke="#62a044" stroke-width="1.2"/>
<line x1="232.60" y1="589.12" x2="232.60" y2="593.12" stroke="#62a044" stroke-width="1.2"/>
<line x1="270.00" y1="589.12" x2="270.00" y2="593.12" stroke="#62a044" stroke-width="1.2"/>
<ellipse cx="251.20" cy="591.12" rx="3.95" ry="3.5" fill="#6eaa52" stroke="#62a044" stroke-width="0.7"/>
<text x="10.90" y="593.41" font-size="8.3" fill="#70a354" stroke="#70a354" stroke-width="0.08" text-anchor="start" textLength="23.62" lengthAdjust="spacingAndGlyphs">GATA2</text>
<text x="435.90" y="593.41" font-size="8.2" fill="#70a354" stroke="#70a354" stroke-width="0.08" text-anchor="start" textLength="10.17" lengthAdjust="spacingAndGlyphs">1.9</text>
<text x="476.30" y="593.41" font-size="8.2" fill="#70a354" stroke="#70a354" stroke-width="0.08" text-anchor="start" textLength="10.17" lengthAdjust="spacingAndGlyphs">2.1</text>
<line x1="234.60" y1="600.45" x2="268.00" y2="600.45" stroke="#62a044" stroke-width="1.2"/>
<line x1="234.60" y1="598.45" x2="234.60" y2="602.45" stroke="#62a044" stroke-width="1.2"/>
<line x1="268.00" y1="598.45" x2="268.00" y2="602.45" stroke="#62a044" stroke-width="1.2"/>
<ellipse cx="251.20" cy="600.45" rx="3.95" ry="3.5" fill="#6eaa52" stroke="#62a044" stroke-width="0.7"/>
<text x="10.90" y="602.73" font-size="8.3" fill="#70a354" stroke="#70a354" stroke-width="0.08" text-anchor="start" textLength="17.91" lengthAdjust="spacingAndGlyphs">PHF6</text>
<text x="435.90" y="602.73" font-size="8.2" fill="#70a354" stroke="#70a354" stroke-width="0.08" text-anchor="start" textLength="10.17" lengthAdjust="spacingAndGlyphs">2.5</text>
<text x="476.30" y="602.73" font-size="8.2" fill="#70a354" stroke="#70a354" stroke-width="0.08" text-anchor="start" textLength="10.17" lengthAdjust="spacingAndGlyphs">2.7</text>
<line x1="221.20" y1="609.77" x2="269.00" y2="609.77" stroke="#62a044" stroke-width="1.2"/>
<line x1="221.20" y1="607.77" x2="221.20" y2="611.77" stroke="#62a044" stroke-width="1.2"/>
<line x1="269.00" y1="607.77" x2="269.00" y2="611.77" stroke="#62a044" stroke-width="1.2"/>
<ellipse cx="244.60" cy="609.77" rx="3.95" ry="3.5" fill="#6eaa52" stroke="#62a044" stroke-width="0.7"/>
<text x="10.90" y="612.05" font-size="8.3" fill="#70a354" stroke="#70a354" stroke-width="0.08" text-anchor="start" textLength="27.95" lengthAdjust="spacingAndGlyphs">12pLOH</text>
<text x="435.90" y="612.05" font-size="8.2" fill="#70a354" stroke="#70a354" stroke-width="0.08" text-anchor="start" textLength="10.17" lengthAdjust="spacingAndGlyphs">3.1</text>
<text x="476.30" y="612.05" font-size="8.2" fill="#70a354" stroke="#70a354" stroke-width="0.08" text-anchor="start" textLength="4.23" lengthAdjust="spacingAndGlyphs">3</text>
<line x1="228.00" y1="619.10" x2="259.70" y2="619.10" stroke="#62a044" stroke-width="1.2"/>
<line x1="228.00" y1="617.10" x2="228.00" y2="621.10" stroke="#62a044" stroke-width="1.2"/>
<line x1="259.70" y1="617.10" x2="259.70" y2="621.10" stroke="#62a044" stroke-width="1.2"/>
<ellipse cx="243.30" cy="619.10" rx="3.95" ry="3.5" fill="#6eaa52" stroke="#62a044" stroke-width="0.7"/>
<text x="10.90" y="621.37" font-size="8.3" fill="#70a354" stroke="#70a354" stroke-width="0.08" text-anchor="start" textLength="24.15" lengthAdjust="spacingAndGlyphs">del(5q)</text>
<text x="435.90" y="621.37" font-size="8.2" fill="#70a354" stroke="#70a354" stroke-width="0.08" text-anchor="start" textLength="10.17" lengthAdjust="spacingAndGlyphs">7.5</text>
<text x="476.30" y="621.37" font-size="8.2" fill="#70a354" stroke="#70a354" stroke-width="0.08" text-anchor="start" textLength="10.17" lengthAdjust="spacingAndGlyphs">6.9</text>
<line x1="213.80" y1="628.42" x2="271.50" y2="628.42" stroke="#62a044" stroke-width="1.2"/>
<line x1="213.80" y1="626.42" x2="213.80" y2="630.42" stroke="#62a044" stroke-width="1.2"/>
<line x1="271.50" y1="626.42" x2="271.50" y2="630.42" stroke="#62a044" stroke-width="1.2"/>
<ellipse cx="242.30" cy="628.42" rx="3.95" ry="3.5" fill="#6eaa52" stroke="#62a044" stroke-width="0.7"/>
<text x="10.90" y="630.69" font-size="8.3" fill="#70a354" stroke="#70a354" stroke-width="0.08" text-anchor="start" textLength="17.92" lengthAdjust="spacingAndGlyphs">+21q</text>
<text x="435.90" y="630.69" font-size="8.2" fill="#70a354" stroke="#70a354" stroke-width="0.08" text-anchor="start" textLength="10.17" lengthAdjust="spacingAndGlyphs">2.2</text>
<text x="476.30" y="630.69" font-size="8.2" fill="#70a354" stroke="#70a354" stroke-width="0.08" text-anchor="start" textLength="10.17" lengthAdjust="spacingAndGlyphs">1.9</text>
<line x1="222.00" y1="637.75" x2="258.20" y2="637.75" stroke="#62a044" stroke-width="1.2"/>
<line x1="222.00" y1="635.75" x2="222.00" y2="639.75" stroke="#62a044" stroke-width="1.2"/>
<line x1="258.20" y1="635.75" x2="258.20" y2="639.75" stroke="#62a044" stroke-width="1.2"/>
<ellipse cx="239.70" cy="637.75" rx="3.95" ry="3.5" fill="#6eaa52" stroke="#62a044" stroke-width="0.7"/>
<text x="10.90" y="640.01" font-size="8.3" fill="#70a354" stroke="#70a354" stroke-width="0.08" text-anchor="start" textLength="27.95" lengthAdjust="spacingAndGlyphs">17pLOH</text>
<text x="435.90" y="640.01" font-size="8.2" fill="#70a354" stroke="#70a354" stroke-width="0.08" text-anchor="start" textLength="10.17" lengthAdjust="spacingAndGlyphs">5.9</text>
<text x="476.30" y="640.01" font-size="8.2" fill="#70a354" stroke="#70a354" stroke-width="0.08" text-anchor="start" textLength="4.23" lengthAdjust="spacingAndGlyphs">5</text>
<line x1="230.00" y1="647.07" x2="248.90" y2="647.07" stroke="#62a044" stroke-width="1.2"/>
<line x1="230.00" y1="645.07" x2="230.00" y2="649.07" stroke="#62a044" stroke-width="1.2"/>
<line x1="248.90" y1="645.07" x2="248.90" y2="649.07" stroke="#62a044" stroke-width="1.2"/>
<ellipse cx="239.20" cy="647.07" rx="3.95" ry="3.5" fill="#6eaa52" stroke="#62a044" stroke-width="0.7"/>
<text x="10.90" y="649.33" font-size="8.3" fill="#70a354" stroke="#70a354" stroke-width="0.08" text-anchor="start" textLength="24.00" lengthAdjust="spacingAndGlyphs">RUNX1</text>
<text x="435.90" y="649.33" font-size="8.2" fill="#70a354" stroke="#70a354" stroke-width="0.08" text-anchor="start" textLength="10.17" lengthAdjust="spacingAndGlyphs">9.6</text>
<text x="476.30" y="649.33" font-size="8.2" fill="#70a354" stroke="#70a354" stroke-width="0.08" text-anchor="start" textLength="10.17" lengthAdjust="spacingAndGlyphs">8.1</text>
<line x1="228.50" y1="656.40" x2="248.90" y2="656.40" stroke="#62a044" stroke-width="1.2"/>
<line x1="228.50" y1="654.40" x2="228.50" y2="658.40" stroke="#62a044" stroke-width="1.2"/>
<line x1="248.90" y1="654.40" x2="248.90" y2="658.40" stroke="#62a044" stroke-width="1.2"/>
<ellipse cx="238.50" cy="656.40" rx="3.95" ry="3.5" fill="#6eaa52" stroke="#62a044" stroke-width="0.7"/>
<text x="10.90" y="658.65" font-size="8.3" fill="#70a354" stroke="#70a354" stroke-width="0.08" text-anchor="start" textLength="16.85" lengthAdjust="spacingAndGlyphs">TP53</text>
<text x="435.90" y="658.65" font-size="8.2" fill="#70a354" stroke="#70a354" stroke-width="0.08" text-anchor="start" textLength="10.17" lengthAdjust="spacingAndGlyphs">7.7</text>
<text x="476.30" y="658.65" font-size="8.2" fill="#70a354" stroke="#70a354" stroke-width="0.08" text-anchor="start" textLength="10.17" lengthAdjust="spacingAndGlyphs">6.4</text>
<line x1="218.50" y1="665.72" x2="243.50" y2="665.72" stroke="#3a5283" stroke-width="1.2"/>
<line x1="218.50" y1="663.72" x2="218.50" y2="667.72" stroke="#3a5283" stroke-width="1.2"/>
<line x1="243.50" y1="663.72" x2="243.50" y2="667.72" stroke="#3a5283" stroke-width="1.2"/>
<ellipse cx="230.80" cy="665.72" rx="3.95" ry="3.5" fill="#4a6490" stroke="#3a5283" stroke-width="0.7"/>
<text x="10.90" y="667.97" font-size="8.3" fill="#425988" stroke="#425988" stroke-width="0.08" text-anchor="start" textLength="22.64" lengthAdjust="spacingAndGlyphs">STAG2</text>
<text x="435.90" y="667.97" font-size="8.2" fill="#425988" stroke="#425988" stroke-width="0.08" text-anchor="start" textLength="10.17" lengthAdjust="spacingAndGlyphs">6.1</text>
<text x="476.30" y="667.97" font-size="8.2" fill="#425988" stroke="#425988" stroke-width="0.08" text-anchor="start" textLength="10.17" lengthAdjust="spacingAndGlyphs">4.2</text>
<line x1="212.00" y1="675.05" x2="238.20" y2="675.05" stroke="#3a5283" stroke-width="1.2"/>
<line x1="212.00" y1="673.05" x2="212.00" y2="677.05" stroke="#3a5283" stroke-width="1.2"/>
<line x1="238.20" y1="673.05" x2="238.20" y2="677.05" stroke="#3a5283" stroke-width="1.2"/>
<ellipse cx="224.90" cy="675.05" rx="3.95" ry="3.5" fill="#4a6490" stroke="#3a5283" stroke-width="0.7"/>
<text x="10.90" y="677.29" font-size="8.3" fill="#425988" stroke="#425988" stroke-width="0.08" text-anchor="start" textLength="33.69" lengthAdjust="spacingAndGlyphs">-7/del(7q)</text>
<text x="435.90" y="677.29" font-size="8.2" fill="#425988" stroke="#425988" stroke-width="0.08" text-anchor="start" textLength="14.40" lengthAdjust="spacingAndGlyphs">13.6</text>
<text x="476.30" y="677.29" font-size="8.2" fill="#425988" stroke="#425988" stroke-width="0.08" text-anchor="start" textLength="10.17" lengthAdjust="spacingAndGlyphs">8.4</text>
<line x1="206.20" y1="684.38" x2="243.10" y2="684.38" stroke="#3a5283" stroke-width="1.2"/>
<line x1="206.20" y1="682.38" x2="206.20" y2="686.38" stroke="#3a5283" stroke-width="1.2"/>
<line x1="243.10" y1="682.38" x2="243.10" y2="686.38" stroke="#3a5283" stroke-width="1.2"/>
<ellipse cx="224.60" cy="684.38" rx="3.95" ry="3.5" fill="#4a6490" stroke="#3a5283" stroke-width="0.7"/>
<text x="10.90" y="686.61" font-size="8.3" fill="#425988" stroke="#425988" stroke-width="0.08" text-anchor="start" textLength="13.60" lengthAdjust="spacingAndGlyphs">NF1</text>
<text x="435.90" y="686.61" font-size="8.2" fill="#425988" stroke="#425988" stroke-width="0.08" text-anchor="start" textLength="10.17" lengthAdjust="spacingAndGlyphs">3.1</text>
<text x="476.30" y="686.61" font-size="8.2" fill="#425988" stroke="#425988" stroke-width="0.08" text-anchor="start" textLength="10.17" lengthAdjust="spacingAndGlyphs">1.8</text>
<line x1="206.30" y1="693.70" x2="236.30" y2="693.70" stroke="#3a5283" stroke-width="1.2"/>
<line x1="206.30" y1="691.70" x2="206.30" y2="695.70" stroke="#3a5283" stroke-width="1.2"/>
<line x1="236.30" y1="691.70" x2="236.30" y2="695.70" stroke="#3a5283" stroke-width="1.2"/>
<ellipse cx="221.10" cy="693.70" rx="3.95" ry="3.5" fill="#4a6490" stroke="#3a5283" stroke-width="0.7"/>
<text x="10.90" y="695.93" font-size="8.3" fill="#425988" stroke="#425988" stroke-width="0.08" text-anchor="start" textLength="18.12" lengthAdjust="spacingAndGlyphs">EZH2</text>
<text x="435.90" y="695.93" font-size="8.2" fill="#425988" stroke="#425988" stroke-width="0.08" text-anchor="start" textLength="4.23" lengthAdjust="spacingAndGlyphs">5</text>
<text x="476.30" y="695.93" font-size="8.2" fill="#425988" stroke="#425988" stroke-width="0.08" text-anchor="start" textLength="10.17" lengthAdjust="spacingAndGlyphs">2.7</text>
<line x1="204.60" y1="703.02" x2="225.20" y2="703.02" stroke="#3a5283" stroke-width="1.2"/>
<line x1="204.60" y1="701.02" x2="204.60" y2="705.02" stroke="#3a5283" stroke-width="1.2"/>
<line x1="225.20" y1="701.02" x2="225.20" y2="705.02" stroke="#3a5283" stroke-width="1.2"/>
<ellipse cx="214.70" cy="703.02" rx="3.95" ry="3.5" fill="#4a6490" stroke="#3a5283" stroke-width="0.7"/>
<text x="10.90" y="705.25" font-size="8.3" fill="#425988" stroke="#425988" stroke-width="0.08" text-anchor="start" textLength="20.70" lengthAdjust="spacingAndGlyphs">SRSF2</text>
<text x="435.90" y="705.25" font-size="8.2" fill="#425988" stroke="#425988" stroke-width="0.08" text-anchor="start" textLength="14.40" lengthAdjust="spacingAndGlyphs">11.8</text>
<text x="476.30" y="705.25" font-size="8.2" fill="#425988" stroke="#425988" stroke-width="0.08" text-anchor="start" textLength="10.17" lengthAdjust="spacingAndGlyphs">5.8</text>
<line x1="198.00" y1="712.35" x2="230.50" y2="712.35" stroke="#3a5283" stroke-width="1.2"/>
<line x1="198.00" y1="710.35" x2="198.00" y2="714.35" stroke="#3a5283" stroke-width="1.2"/>
<line x1="230.50" y1="710.35" x2="230.50" y2="714.35" stroke="#3a5283" stroke-width="1.2"/>
<ellipse cx="213.80" cy="712.35" rx="3.95" ry="3.5" fill="#4a6490" stroke="#3a5283" stroke-width="0.7"/>
<text x="10.90" y="714.57" font-size="8.3" fill="#425988" stroke="#425988" stroke-width="0.08" text-anchor="start" textLength="19.26" lengthAdjust="spacingAndGlyphs">BCOR</text>
<text x="435.90" y="714.57" font-size="8.2" fill="#425988" stroke="#425988" stroke-width="0.08" text-anchor="start" textLength="10.17" lengthAdjust="spacingAndGlyphs">4.8</text>
<text x="476.30" y="714.57" font-size="8.2" fill="#425988" stroke="#425988" stroke-width="0.08" text-anchor="start" textLength="10.17" lengthAdjust="spacingAndGlyphs">2.2</text>
<line x1="188.20" y1="721.67" x2="231.50" y2="721.67" stroke="#3a5283" stroke-width="1.2"/>
<line x1="188.20" y1="719.67" x2="188.20" y2="723.67" stroke="#3a5283" stroke-width="1.2"/>
<line x1="231.50" y1="719.67" x2="231.50" y2="723.67" stroke="#3a5283" stroke-width="1.2"/>
<ellipse cx="209.70" cy="721.67" rx="3.95" ry="3.5" fill="#4a6490" stroke="#3a5283" stroke-width="0.7"/>
<text x="10.90" y="723.89" font-size="8.3" fill="#425988" stroke="#425988" stroke-width="0.08" text-anchor="start" textLength="28.36" lengthAdjust="spacingAndGlyphs">del(20q)</text>
<text x="435.90" y="723.89" font-size="8.2" fill="#425988" stroke="#425988" stroke-width="0.08" text-anchor="start" textLength="10.17" lengthAdjust="spacingAndGlyphs">5.1</text>
<text x="476.30" y="723.89" font-size="8.2" fill="#425988" stroke="#425988" stroke-width="0.08" text-anchor="start" textLength="10.17" lengthAdjust="spacingAndGlyphs">2.1</text>
<line x1="190.50" y1="731.00" x2="227.70" y2="731.00" stroke="#3a5283" stroke-width="1.2"/>
<line x1="190.50" y1="729.00" x2="190.50" y2="733.00" stroke="#3a5283" stroke-width="1.2"/>
<line x1="227.70" y1="729.00" x2="227.70" y2="733.00" stroke="#3a5283" stroke-width="1.2"/>
<ellipse cx="208.90" cy="731.00" rx="3.95" ry="3.5" fill="#4a6490" stroke="#3a5283" stroke-width="0.7"/>
<text x="10.90" y="733.21" font-size="8.3" fill="#425988" stroke="#425988" stroke-width="0.08" text-anchor="start" textLength="13.07" lengthAdjust="spacingAndGlyphs">CBL</text>
<text x="435.90" y="733.21" font-size="8.2" fill="#425988" stroke="#425988" stroke-width="0.08" text-anchor="start" textLength="4.23" lengthAdjust="spacingAndGlyphs">4</text>
<text x="476.30" y="733.21" font-size="8.2" fill="#425988" stroke="#425988" stroke-width="0.08" text-anchor="start" textLength="10.17" lengthAdjust="spacingAndGlyphs">1.6</text>
<line x1="200.50" y1="740.32" x2="216.30" y2="740.32" stroke="#3a5283" stroke-width="1.2"/>
<line x1="200.50" y1="738.32" x2="200.50" y2="742.32" stroke="#3a5283" stroke-width="1.2"/>
<line x1="216.30" y1="738.32" x2="216.30" y2="742.32" stroke="#3a5283" stroke-width="1.2"/>
<ellipse cx="208.30" cy="740.32" rx="3.95" ry="3.5" fill="#4a6490" stroke="#3a5283" stroke-width="0.7"/>
<text x="10.90" y="742.53" font-size="8.3" fill="#425988" stroke="#425988" stroke-width="0.08" text-anchor="start" textLength="16.39" lengthAdjust="spacingAndGlyphs">TET2</text>
<text x="435.90" y="742.53" font-size="8.2" fill="#425988" stroke="#425988" stroke-width="0.08" text-anchor="start" textLength="14.40" lengthAdjust="spacingAndGlyphs">21.8</text>
<text x="476.30" y="742.53" font-size="8.2" fill="#425988" stroke="#425988" stroke-width="0.08" text-anchor="start" textLength="10.17" lengthAdjust="spacingAndGlyphs">9.9</text>
<line x1="193.30" y1="749.65" x2="215.00" y2="749.65" stroke="#3a5283" stroke-width="1.2"/>
<line x1="193.30" y1="747.65" x2="193.30" y2="751.65" stroke="#3a5283" stroke-width="1.2"/>
<line x1="215.00" y1="747.65" x2="215.00" y2="751.65" stroke="#3a5283" stroke-width="1.2"/>
<ellipse cx="203.80" cy="749.65" rx="3.95" ry="3.5" fill="#4a6490" stroke="#3a5283" stroke-width="0.7"/>
<text x="10.90" y="751.85" font-size="8.3" fill="#425988" stroke="#425988" stroke-width="0.08" text-anchor="start" textLength="66.53" lengthAdjust="spacingAndGlyphs">Complex karyotype</text>
<text x="435.90" y="751.85" font-size="8.2" fill="#425988" stroke="#425988" stroke-width="0.08" text-anchor="start" textLength="14.40" lengthAdjust="spacingAndGlyphs">24.9</text>
<text x="476.30" y="751.85" font-size="8.2" fill="#425988" stroke="#425988" stroke-width="0.08" text-anchor="start" textLength="14.40" lengthAdjust="spacingAndGlyphs">10.5</text>
<line x1="173.50" y1="758.97" x2="233.70" y2="758.97" stroke="#3a5283" stroke-width="1.2"/>
<line x1="173.50" y1="756.97" x2="173.50" y2="760.97" stroke="#3a5283" stroke-width="1.2"/>
<line x1="233.70" y1="756.97" x2="233.70" y2="760.97" stroke="#3a5283" stroke-width="1.2"/>
<ellipse cx="203.30" cy="758.97" rx="3.95" ry="3.5" fill="#4a6490" stroke="#3a5283" stroke-width="0.7"/>
<text x="10.90" y="761.17" font-size="8.3" fill="#425988" stroke="#425988" stroke-width="0.08" text-anchor="start" textLength="25.72" lengthAdjust="spacingAndGlyphs">KDM6A</text>
<text x="435.90" y="761.17" font-size="8.2" fill="#425988" stroke="#425988" stroke-width="0.08" text-anchor="start" textLength="10.17" lengthAdjust="spacingAndGlyphs">1.7</text>
<text x="476.30" y="761.17" font-size="8.2" fill="#425988" stroke="#425988" stroke-width="0.08" text-anchor="start" textLength="10.17" lengthAdjust="spacingAndGlyphs">0.6</text>
<line x1="167.30" y1="768.30" x2="218.80" y2="768.30" stroke="#3a5283" stroke-width="1.2"/>
<line x1="167.30" y1="766.30" x2="167.30" y2="770.30" stroke="#3a5283" stroke-width="1.2"/>
<line x1="218.80" y1="766.30" x2="218.80" y2="770.30" stroke="#3a5283" stroke-width="1.2"/>
<ellipse cx="192.90" cy="768.30" rx="3.95" ry="3.5" fill="#4a6490" stroke="#3a5283" stroke-width="0.7"/>
<text x="10.90" y="770.49" font-size="8.3" fill="#425988" stroke="#425988" stroke-width="0.08" text-anchor="start" textLength="16.89" lengthAdjust="spacingAndGlyphs">ETV6</text>
<text x="435.90" y="770.49" font-size="8.2" fill="#425988" stroke="#425988" stroke-width="0.08" text-anchor="start" textLength="10.17" lengthAdjust="spacingAndGlyphs">2.8</text>
<text x="476.30" y="770.49" font-size="8.2" fill="#425988" stroke="#425988" stroke-width="0.08" text-anchor="start" textLength="10.17" lengthAdjust="spacingAndGlyphs">0.8</text>
<line x1="161.90" y1="777.62" x2="217.70" y2="777.62" stroke="#3a5283" stroke-width="1.2"/>
<line x1="161.90" y1="775.62" x2="161.90" y2="779.62" stroke="#3a5283" stroke-width="1.2"/>
<line x1="217.70" y1="775.62" x2="217.70" y2="779.62" stroke="#3a5283" stroke-width="1.2"/>
<ellipse cx="189.40" cy="777.62" rx="3.95" ry="3.5" fill="#4a6490" stroke="#3a5283" stroke-width="0.7"/>
<text x="10.90" y="779.81" font-size="8.3" fill="#425988" stroke="#425988" stroke-width="0.08" text-anchor="start" textLength="16.26" lengthAdjust="spacingAndGlyphs">JAK2</text>
<text x="435.90" y="779.81" font-size="8.2" fill="#425988" stroke="#425988" stroke-width="0.08" text-anchor="start" textLength="10.17" lengthAdjust="spacingAndGlyphs">2.5</text>
<text x="476.30" y="779.81" font-size="8.2" fill="#425988" stroke="#425988" stroke-width="0.08" text-anchor="start" textLength="10.17" lengthAdjust="spacingAndGlyphs">0.6</text>
<line x1="171.70" y1="786.95" x2="201.60" y2="786.95" stroke="#3a5283" stroke-width="1.2"/>
<line x1="171.70" y1="784.95" x2="171.70" y2="788.95" stroke="#3a5283" stroke-width="1.2"/>
<line x1="201.60" y1="784.95" x2="201.60" y2="788.95" stroke="#3a5283" stroke-width="1.2"/>
<ellipse cx="186.60" cy="786.95" rx="3.95" ry="3.5" fill="#4a6490" stroke="#3a5283" stroke-width="0.7"/>
<text x="10.90" y="789.13" font-size="8.3" fill="#425988" stroke="#425988" stroke-width="0.08" text-anchor="start" textLength="22.73" lengthAdjust="spacingAndGlyphs">U2AF1</text>
<text x="435.90" y="789.13" font-size="8.2" fill="#425988" stroke="#425988" stroke-width="0.08" text-anchor="start" textLength="10.17" lengthAdjust="spacingAndGlyphs">9.1</text>
<text x="476.30" y="789.13" font-size="8.2" fill="#425988" stroke="#425988" stroke-width="0.08" text-anchor="start" textLength="10.17" lengthAdjust="spacingAndGlyphs">2.3</text>
<line x1="175.80" y1="796.27" x2="197.50" y2="796.27" stroke="#3a5283" stroke-width="1.2"/>
<line x1="175.80" y1="794.27" x2="175.80" y2="798.27" stroke="#3a5283" stroke-width="1.2"/>
<line x1="197.50" y1="794.27" x2="197.50" y2="798.27" stroke="#3a5283" stroke-width="1.2"/>
<ellipse cx="186.30" cy="796.27" rx="3.95" ry="3.5" fill="#4a6490" stroke="#3a5283" stroke-width="0.7"/>
<text x="10.90" y="798.45" font-size="8.3" fill="#425988" stroke="#425988" stroke-width="0.08" text-anchor="start" textLength="21.82" lengthAdjust="spacingAndGlyphs">ASXL1</text>
<text x="435.90" y="798.45" font-size="8.2" fill="#425988" stroke="#425988" stroke-width="0.08" text-anchor="start" textLength="14.40" lengthAdjust="spacingAndGlyphs">16.7</text>
<text x="476.30" y="798.45" font-size="8.2" fill="#425988" stroke="#425988" stroke-width="0.08" text-anchor="start" textLength="10.17" lengthAdjust="spacingAndGlyphs">4.4</text>
<line x1="132.50" y1="805.60" x2="204.50" y2="805.60" stroke="#3a5283" stroke-width="1.2"/>
<line x1="132.50" y1="803.60" x2="132.50" y2="807.60" stroke="#3a5283" stroke-width="1.2"/>
<line x1="204.50" y1="803.60" x2="204.50" y2="807.60" stroke="#3a5283" stroke-width="1.2"/>
<ellipse cx="168.30" cy="805.60" rx="3.95" ry="3.5" fill="#4a6490" stroke="#3a5283" stroke-width="0.7"/>
<text x="10.90" y="807.77" font-size="8.3" fill="#425988" stroke="#425988" stroke-width="0.08" text-anchor="start" textLength="18.95" lengthAdjust="spacingAndGlyphs">CUX1</text>
<text x="435.90" y="807.77" font-size="8.2" fill="#425988" stroke="#425988" stroke-width="0.08" text-anchor="start" textLength="10.17" lengthAdjust="spacingAndGlyphs">2.5</text>
<text x="476.30" y="807.77" font-size="8.2" fill="#425988" stroke="#425988" stroke-width="0.08" text-anchor="start" textLength="10.17" lengthAdjust="spacingAndGlyphs">0.4</text>
<line x1="140.80" y1="814.92" x2="190.80" y2="814.92" stroke="#3a5283" stroke-width="1.2"/>
<line x1="140.80" y1="812.92" x2="140.80" y2="816.92" stroke="#3a5283" stroke-width="1.2"/>
<line x1="190.80" y1="812.92" x2="190.80" y2="816.92" stroke="#3a5283" stroke-width="1.2"/>
<ellipse cx="165.50" cy="814.92" rx="3.95" ry="3.5" fill="#4a6490" stroke="#3a5283" stroke-width="0.7"/>
<text x="10.90" y="817.09" font-size="8.3" fill="#425988" stroke="#425988" stroke-width="0.08" text-anchor="start" textLength="21.61" lengthAdjust="spacingAndGlyphs">ZRSR2</text>
<text x="435.90" y="817.09" font-size="8.2" fill="#425988" stroke="#425988" stroke-width="0.08" text-anchor="start" textLength="10.17" lengthAdjust="spacingAndGlyphs">5.3</text>
<text x="476.30" y="817.09" font-size="8.2" fill="#425988" stroke="#425988" stroke-width="0.08" text-anchor="start" textLength="10.17" lengthAdjust="spacingAndGlyphs">0.8</text>
<line x1="102.50" y1="824.25" x2="139.50" y2="824.25" stroke="#3a5283" stroke-width="1.2"/>
<line x1="102.50" y1="822.25" x2="102.50" y2="826.25" stroke="#3a5283" stroke-width="1.2"/>
<line x1="139.50" y1="822.25" x2="139.50" y2="826.25" stroke="#3a5283" stroke-width="1.2"/>
<ellipse cx="121.30" cy="824.25" rx="3.95" ry="3.5" fill="#4a6490" stroke="#3a5283" stroke-width="0.7"/>
<text x="10.90" y="826.41" font-size="8.3" fill="#425988" stroke="#425988" stroke-width="0.08" text-anchor="start" textLength="20.89" lengthAdjust="spacingAndGlyphs">SF3B1</text>
<text x="435.90" y="826.41" font-size="8.2" fill="#425988" stroke="#425988" stroke-width="0.08" text-anchor="start" textLength="14.40" lengthAdjust="spacingAndGlyphs">22.3</text>
<text x="476.30" y="826.41" font-size="8.2" fill="#425988" stroke="#425988" stroke-width="0.08" text-anchor="start" textLength="10.17" lengthAdjust="spacingAndGlyphs">1.4</text>
<line x1="51.20" y1="832.10" x2="508.80" y2="832.10" stroke="#111" stroke-width="1.7"/>
<line x1="55.60" y1="832.10" x2="55.60" y2="836.90" stroke="#111" stroke-width="1.1"/>
<line x1="151.38" y1="832.10" x2="151.38" y2="836.90" stroke="#111" stroke-width="1.1"/>
<line x1="247.16" y1="832.10" x2="247.16" y2="836.90" stroke="#111" stroke-width="1.1"/>
<line x1="342.94" y1="832.10" x2="342.94" y2="836.90" stroke="#111" stroke-width="1.1"/>
<line x1="438.72" y1="832.10" x2="438.72" y2="836.90" stroke="#111" stroke-width="1.1"/>
<line x1="84.43" y1="832.10" x2="84.43" y2="835.00" stroke="#111" stroke-width="1.0"/>
<line x1="101.30" y1="832.10" x2="101.30" y2="835.00" stroke="#111" stroke-width="1.0"/>
<line x1="113.27" y1="832.10" x2="113.27" y2="835.00" stroke="#111" stroke-width="1.0"/>
<line x1="122.55" y1="832.10" x2="122.55" y2="835.00" stroke="#111" stroke-width="1.0"/>
<line x1="130.13" y1="832.10" x2="130.13" y2="835.00" stroke="#111" stroke-width="1.0"/>
<line x1="136.54" y1="832.10" x2="136.54" y2="835.00" stroke="#111" stroke-width="1.0"/>
<line x1="142.10" y1="832.10" x2="142.10" y2="835.00" stroke="#111" stroke-width="1.0"/>
<line x1="147.00" y1="832.10" x2="147.00" y2="835.00" stroke="#111" stroke-width="1.0"/>
<line x1="180.21" y1="832.10" x2="180.21" y2="835.00" stroke="#111" stroke-width="1.0"/>
<line x1="197.08" y1="832.10" x2="197.08" y2="835.00" stroke="#111" stroke-width="1.0"/>
<line x1="209.05" y1="832.10" x2="209.05" y2="835.00" stroke="#111" stroke-width="1.0"/>
<line x1="218.33" y1="832.10" x2="218.33" y2="835.00" stroke="#111" stroke-width="1.0"/>
<line x1="225.91" y1="832.10" x2="225.91" y2="835.00" stroke="#111" stroke-width="1.0"/>
<line x1="232.32" y1="832.10" x2="232.32" y2="835.00" stroke="#111" stroke-width="1.0"/>
<line x1="237.88" y1="832.10" x2="237.88" y2="835.00" stroke="#111" stroke-width="1.0"/>
<line x1="242.78" y1="832.10" x2="242.78" y2="835.00" stroke="#111" stroke-width="1.0"/>
<line x1="275.99" y1="832.10" x2="275.99" y2="835.00" stroke="#111" stroke-width="1.0"/>
<line x1="292.86" y1="832.10" x2="292.86" y2="835.00" stroke="#111" stroke-width="1.0"/>
<line x1="304.83" y1="832.10" x2="304.83" y2="835.00" stroke="#111" stroke-width="1.0"/>
<line x1="314.11" y1="832.10" x2="314.11" y2="835.00" stroke="#111" stroke-width="1.0"/>
<line x1="321.69" y1="832.10" x2="321.69" y2="835.00" stroke="#111" stroke-width="1.0"/>
<line x1="328.10" y1="832.10" x2="328.10" y2="835.00" stroke="#111" stroke-width="1.0"/>
<line x1="333.66" y1="832.10" x2="333.66" y2="835.00" stroke="#111" stroke-width="1.0"/>
<line x1="338.56" y1="832.10" x2="338.56" y2="835.00" stroke="#111" stroke-width="1.0"/>
<line x1="371.77" y1="832.10" x2="371.77" y2="835.00" stroke="#111" stroke-width="1.0"/>
<line x1="388.64" y1="832.10" x2="388.64" y2="835.00" stroke="#111" stroke-width="1.0"/>
<line x1="400.61" y1="832.10" x2="400.61" y2="835.00" stroke="#111" stroke-width="1.0"/>
<line x1="409.89" y1="832.10" x2="409.89" y2="835.00" stroke="#111" stroke-width="1.0"/>
<line x1="417.47" y1="832.10" x2="417.47" y2="835.00" stroke="#111" stroke-width="1.0"/>
<line x1="423.88" y1="832.10" x2="423.88" y2="835.00" stroke="#111" stroke-width="1.0"/>
<line x1="429.44" y1="832.10" x2="429.44" y2="835.00" stroke="#111" stroke-width="1.0"/>
<line x1="434.34" y1="832.10" x2="434.34" y2="835.00" stroke="#111" stroke-width="1.0"/>
<text x="55.60" y="848.90" font-size="8.4" fill="#231f20" stroke="#231f20" stroke-width="0.08" text-anchor="middle" textLength="13.71" lengthAdjust="spacingAndGlyphs">0.01</text>
<text x="151.38" y="848.90" font-size="8.4" fill="#231f20" stroke="#231f20" stroke-width="0.08" text-anchor="middle" textLength="9.68" lengthAdjust="spacingAndGlyphs">0.1</text>
<text x="247.16" y="848.90" font-size="8.4" fill="#231f20" stroke="#231f20" stroke-width="0.08" text-anchor="middle" textLength="4.03" lengthAdjust="spacingAndGlyphs">1</text>
<text x="342.94" y="848.90" font-size="8.4" fill="#231f20" stroke="#231f20" stroke-width="0.08" text-anchor="middle" textLength="8.05" lengthAdjust="spacingAndGlyphs">10</text>
<text x="438.72" y="848.90" font-size="8.4" fill="#231f20" stroke="#231f20" stroke-width="0.08" text-anchor="middle" textLength="12.08" lengthAdjust="spacingAndGlyphs">100</text>
<text x="147.00" y="865.20" font-size="10.9" fill="#231f20" stroke="#231f20" stroke-width="0.18" text-anchor="start" textLength="200.30" lengthAdjust="spacingAndGlyphs">Odds ratio of mutation frequency (95%CI)</text>
</svg>
</body></html>
